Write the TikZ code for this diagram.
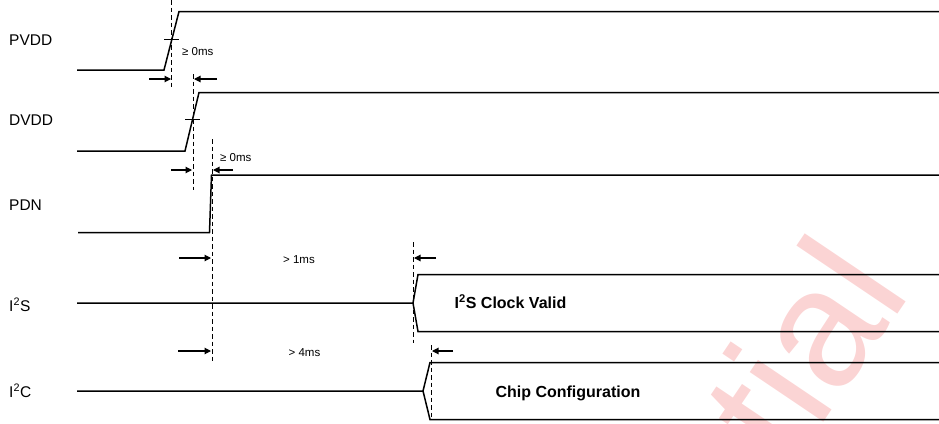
\documentclass[tikz,border=0pt]{standalone}
\usepackage{fontspec}
\setmainfont{Liberation Sans}
\usetikzlibrary{positioning,arrows.meta,calc}
\definecolor{wmark}{RGB}{251,212,212}
\tikzset{
  sig/.style  ={draw=black, line width=1.5pt, line join=miter},
  tick/.style ={draw=black, line width=0.8pt},
  guide/.style={draw=black, line width=1pt, dash pattern=on 4.5pt off 3pt},
  % a timing gap: arrow that runs up to a dashed guide line
  gap/.style  ={draw=black, line width=1.1pt, -{Triangle[length=6.5pt,width=6.5pt]}},
  lbl/.style  ={font=\fontsize{15.5}{18}\selectfont, inner sep=0pt, anchor=base west},
  dly/.style  ={font=\fontsize{11.5}{13}\selectfont, inner sep=0pt},
  busl/.style ={font=\bfseries\fontsize{16}{19}\selectfont, inner sep=0pt, anchor=base},
}
\begin{document}
\begin{tikzpicture}[x=1pt,y=-1pt]
\useasboundingbox (0,0) rectangle (939,423);
% watermark, cut by the page
\begin{scope}
  \clip (0,0) rectangle (939,423);
  \node[rotate=56, text=wmark, font=\fontsize{168}{168}\selectfont,
        anchor=base east, inner sep=0pt] (wm) at (912,292) {tial};
\end{scope}
% signal names
\foreach \n/\y/\t in {PVDD/45/PVDD, DVDD/125.5/DVDD, PDN/210.5/PDN,
   IIS/311/I\textsuperscript{2}S, IIC/397/I\textsuperscript{2}C}
  {\node[lbl] (\n) at (9,\y) {\t};}
% supply and reset edges
\foreach \n/\xa/\ya/\xb/\yb/\xc in {pv/164/70/179/11.5/77, dv/185/151/199/92.5/77,
   pd/209.5/232.5/211.5/175/78}
  {\coordinate (\n0) at (\xc,\ya);
   \coordinate (\n1) at (\xa,\ya);
   \coordinate (\n2) at (\xb,\yb);
   \coordinate (\n3) at (939,\yb);
   \draw[sig] (\n0) -- (\n1) -- (\n2) -- (\n3);}
\foreach \n/\xa/\xb/\y in {pvt/164/179/39.5, dvt/185/200/119.5}
  {\coordinate (\n a) at (\xa,\y);
   \coordinate (\n b) at (\xb,\y);
   \draw[tick] (\n a) -- (\n b);}
% bus signals
\foreach \n/\y/\xa/\xb/\h in {is/303/413/418/28.5, ic/391/423/430/28.5}
  {\coordinate (\n0) at (77,\y);
   \coordinate (\n1) at (\xa,\y);
   \coordinate (\n2) at (\xb,\y-\h);
   \coordinate (\n3) at (939,\y-\h);
   \coordinate (\n4) at (\xb,\y+\h);
   \coordinate (\n5) at (939,\y+\h);
   \draw[sig] (\n0) -- (\n1) -- (\n2) -- (\n3);
   \draw[sig] (\n1) -- (\n4) -- (\n5);}
\node[busl] (clk) at (510.5,308.5) {I\textsuperscript{2}S Clock Valid};
\node[busl] (cfg) at (568,397) {Chip Configuration};
% dashed guides
\foreach \n/\x/\ya/\yb in {g1/171.5/0/88, g2/193/74/190, g3/212/139/363,
   g4/413/242/343, g5/431/345/419}
  {\coordinate (\n a) at (\x,\ya);
   \coordinate (\n b) at (\x,\yb);
   \draw[guide] (\n a) -- (\n b);}
% gap arrows
\foreach \n/\xa/\xb/\y in {a1/149/171/79, a2/217/194/79, a3/171/192/170,
   a4/233/213/170, a5/179/211/258, a6/178/211/351, a7/436/414/258, a8/453/432/351}
  {\coordinate (\n s) at (\xa,\y);
   \coordinate (\n e) at (\xb,\y);
   \draw[gap] (\n s) -- (\n e);}
\node[dly, anchor=west] (d1) at (182,52) {≥ 0ms};
\node[dly, anchor=west] (d2) at (220,158) {≥ 0ms};
\node[dly] (d3) at (299,260) {> 1ms};
\node[dly] (d4) at (304.5,353) {> 4ms};
\end{tikzpicture}
\end{document}
